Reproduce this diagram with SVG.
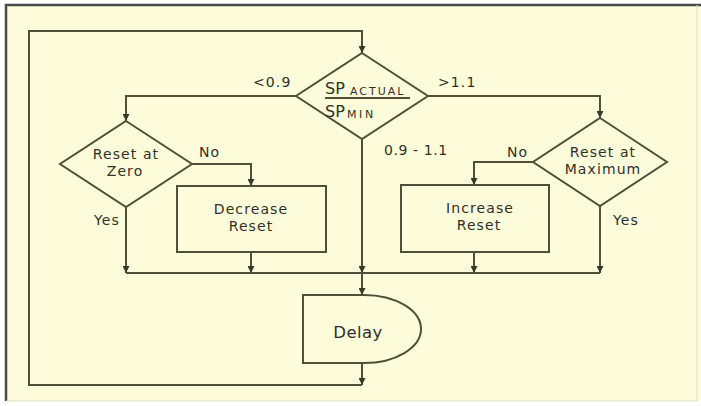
<svg xmlns="http://www.w3.org/2000/svg" width="701" height="406" viewBox="0 0 701 406">
  <style>
    .shape { fill: none; stroke: #505038; stroke-width: 2; }
    .wire { fill: none; stroke: #505038; stroke-width: 2; }
    .label { font-family: "DejaVu Sans", Verdana, sans-serif; font-size: 14px; fill: #303026; letter-spacing: 1.1px; }
    .mid { text-anchor: middle; }
    .ratio { font-family: "DejaVu Sans", Verdana, sans-serif; fill: #303026; }
  </style>
  <defs>
    <marker id="arrow" viewBox="0 0 8 8" refX="8" refY="4" markerWidth="7" markerHeight="7" markerUnits="userSpaceOnUse" orient="auto">
      <path d="M0,0 L8,4 L0,8 Z" fill="#3a3a28"/>
    </marker>
  </defs>

  <!-- page background and frame -->
  <rect x="0" y="0" width="701" height="406" fill="#ffffff"/>
  <rect x="6" y="5" width="695" height="396" fill="#fdfcda"/>
  <path d="M6,401 L6,5 L701,5" fill="none" stroke="#4a4a4a" stroke-width="2.5"/>
  <path d="M6,401 L697,401 L697,5" fill="none" stroke="#dcdccc" stroke-width="1"/>

  <!-- connectors -->
  <g id="connectors">
    <!-- feedback loop from delay back to the ratio test -->
    <path class="wire" d="M362,363 L362,385" marker-end="url(#arrow)"/>
    <path class="wire" d="M362,385 L29,385 L29,31 L362,31 L362,53" marker-end="url(#arrow)"/>
    <!-- ratio branches -->
    <path class="wire" d="M296,96 L126,96 L126,121" marker-end="url(#arrow)"/>
    <path class="wire" d="M428,96 L600,96 L600,118" marker-end="url(#arrow)"/>
    <path class="wire" d="M362,139 L362,273" marker-end="url(#arrow)"/>
    <!-- reset-at-zero outcomes -->
    <path class="wire" d="M192,164 L251,164 L251,186" marker-end="url(#arrow)"/>
    <path class="wire" d="M126,207 L126,273" marker-end="url(#arrow)"/>
    <path class="wire" d="M251,252 L251,273" marker-end="url(#arrow)"/>
    <!-- reset-at-maximum outcomes -->
    <path class="wire" d="M533,162 L474,162 L474,185" marker-end="url(#arrow)"/>
    <path class="wire" d="M600,206 L600,273" marker-end="url(#arrow)"/>
    <path class="wire" d="M474,252 L474,273" marker-end="url(#arrow)"/>
    <!-- collector line into delay -->
    <path class="wire" d="M126,273 L600,273"/>
    <path class="wire" d="M362,273 L362,295" marker-end="url(#arrow)"/>
  </g>

  <!-- connector labels -->
  <g id="branch-labels" class="label">
    <text x="253" y="87">&lt;0.9</text>
    <text x="438" y="87">&gt;1.1</text>
    <text x="384" y="155" letter-spacing="0.6">0.9 - 1.1</text>
    <text x="199" y="157">No</text>
    <text x="507" y="157">No</text>
    <text x="94" y="225">Yes</text>
    <text x="613" y="225">Yes</text>
  </g>

  <!-- ratio decision -->
  <g id="ratio-test">
    <polygon class="shape" points="362,53 428,96 362,139 296,96"/>
    <line x1="325" y1="98" x2="410" y2="98" stroke="#505038" stroke-width="2"/>
    <text class="ratio" x="325" y="94" font-size="16">SP</text>
    <text class="ratio" x="350" y="95" font-size="11" letter-spacing="2">ACTUAL</text>
    <text class="ratio" x="325" y="117" font-size="16">SP</text>
    <text class="ratio" x="347" y="118" font-size="11" letter-spacing="2.6">MIN</text>
  </g>

  <!-- reset at zero decision -->
  <g id="reset-at-zero">
    <polygon class="shape" points="126,121 192,164 126,207 60,164"/>
    <text class="label mid" x="126" y="159">Reset at</text>
    <text class="label mid" x="125" y="176">Zero</text>
  </g>

  <!-- decrease reset process -->
  <g id="decrease-reset">
    <rect class="shape" x="177" y="186" width="149" height="66"/>
    <text class="label mid" x="251" y="214">Decrease</text>
    <text class="label mid" x="251" y="231">Reset</text>
  </g>

  <!-- reset at maximum decision -->
  <g id="reset-at-maximum">
    <polygon class="shape" points="600,118 667,162 600,206 533,162"/>
    <text class="label mid" x="603" y="157">Reset at</text>
    <text class="label mid" x="603" y="174">Maximum</text>
  </g>

  <!-- increase reset process -->
  <g id="increase-reset">
    <rect class="shape" x="401" y="185" width="148" height="67"/>
    <text class="label mid" x="480" y="213">Increase</text>
    <text class="label mid" x="479" y="230">Reset</text>
  </g>

  <!-- delay block -->
  <g id="delay">
    <path class="shape" d="M303,295 L364,295 A57,34 0 0 1 364,363 L303,363 Z"/>
    <text class="ratio" x="358" y="338" text-anchor="middle" font-size="16.5" letter-spacing="0.4">Delay</text>
  </g>
</svg>
